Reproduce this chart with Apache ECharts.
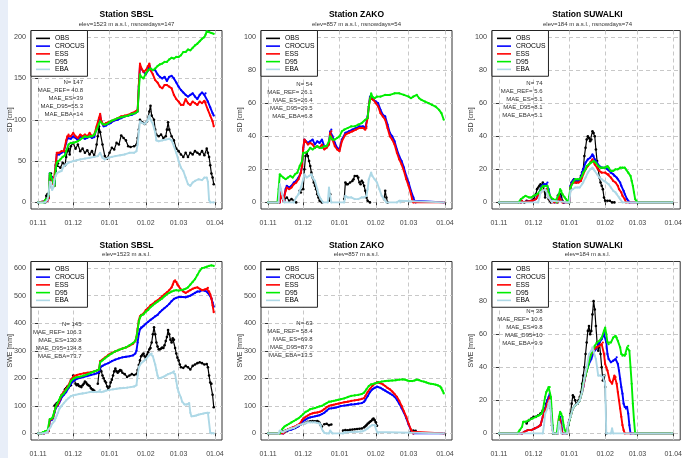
<!DOCTYPE html>
<html><head><meta charset="utf-8">
<script src="https://cdn.jsdelivr.net/npm/echarts@6.0.0/dist/echarts.min.js"></script>
<style>html,body{margin:0;padding:0;background:#fff}#c{width:685px;height:458px}</style>
</head><body><div id="c"></div>
<script>
// ---- axis ticks ----
const dayTicks = [0, 30, 61, 92, 120, 151];
const dayLabels = ['01.11', '01.12', '01.01', '01.02', '01.03', '01.04'];
const seriesNames = ['OBS', 'CROCUS', 'ESS', 'D95', 'EBA'];
const seriesColors = ['#000000', '#0000ff', '#ff0000', '#00ee00', '#add8e6'];
const ticksSD_SBSL = [0, 50, 100, 150, 200];
const ticks0_100 = [0, 20, 40, 60, 80, 100];
const ticksSWE_600 = [0, 100, 200, 300, 400, 500, 600];

// ---- titles / stats ----
const stations = ['SBSL', 'ZAKO', 'SUWALKI'];
const subSD = ['elev=1523 m a.s.l., nsnowdays=147', 'elev=857 m a.s.l., nsnowdays=54', 'elev=184 m a.s.l., nsnowdays=74'];
const subSWE = ['elev=1523 m a.s.l.', 'elev=857 m a.s.l.', 'elev=184 m a.s.l.'];
const statsSD_SBSL = ['N= 147', 'MAE_REF= 40.8', 'MAE_ES=39', 'MAE_D95=55.3', 'MAE_EBA=14'];
const statsSD_ZAKO = ['N= 54', 'MAE_REF= 26.1', 'MAE_ES=26.4', 'MAE_D95=29.5', 'MAE_EBA=6.8'];
const statsSD_SUW = ['N= 74', 'MAE_REF= 5.6', 'MAE_ES=5.1', 'MAE_D95=8.1', 'MAE_EBA=5.1'];
const statsSWE_SBSL = ['N= 145', 'MAE_REF= 106.3', 'MAE_ES=130.8', 'MAE_D95=134.8', 'MAE_EBA=73.7'];
const statsSWE_ZAKO = ['N= 63', 'MAE_REF= 58.4', 'MAE_ES=69.8', 'MAE_D95=87.9', 'MAE_EBA=13.5'];
const statsSWE_SUW = ['N= 38', 'MAE_REF= 10.6', 'MAE_ES=9.8', 'MAE_D95=10', 'MAE_EBA=9.9'];

// ---- data: [day since 01.11, value] ----
const sdSbslObs = [[6,0],[7,8],[8,10],[9,6],[10,20],[11,35],[12,30],[13,25],[14,20],[15,38],[16,45],[17,47],[19,42],[21,48],[23,45],[24,55],[25,62],[26,65],[27,58],[28,68],[30,72],[32,65],[34,70],[36,62],[38,65],[40,60],[42,63],[44,58],[46,62],[48,56],[50,70],[51,80],[52,92],[53,85],[55,70],[57,56],[59,53],[61,60],[63,66],[65,64],[67,72],[69,70],[71,81],[73,78],[75,75],[77,68],[79,67],[82,68],[84,70],[85,78],[86,88],[87,100],[89,97],[91,95],[93,98],[95,110],[96,117],[97,105],[99,100],[100,88],[101,82],[103,80],[105,82],[107,78],[109,80],[110,88],[111,97],[112,88],[114,80],[116,75],[118,65],[120,62],[122,58],[124,55],[126,60],[128,55],[130,60],[132,58],[134,62],[136,60],[138,58],[140,62],[142,57],[144,65],[145,60],[146,55],[147,45],[148,35],[149,30],[150,22]];
const sdSbslCro = [[0,0],[8,2],[9,5],[10,35],[11,32],[12,30],[13,25],[14,22],[15,45],[16,58],[18,58],[20,60],[22,62],[23,60],[24,72],[25,78],[26,80],[28,77],[30,80],[32,78],[34,75],[36,80],[38,78],[40,77],[42,78],[44,80],[46,78],[48,79],[50,90],[52,100],[53,105],[54,98],[56,92],[58,93],[60,95],[62,96],[65,99],[68,100],[71,102],[74,104],[77,105],[80,106],[83,108],[85,110],[86,140],[87,165],[88,162],[90,158],[92,155],[94,160],[95,166],[96,162],[98,160],[100,160],[102,155],[104,152],[106,150],[108,152],[110,147],[112,152],[114,153],[116,150],[118,145],[120,140],[122,136],[124,133],[126,130],[128,128],[130,130],[132,132],[134,128],[136,125],[138,130],[140,133],[142,130],[143,132],[145,122],[147,115],[149,108],[150,105]];
const sdSbslEss = [[0,0],[8,2],[9,5],[10,33],[11,30],[12,27],[13,22],[14,20],[15,45],[16,60],[18,60],[20,62],[22,62],[23,62],[24,75],[25,80],[26,82],[28,80],[30,84],[32,80],[34,78],[36,82],[38,80],[40,82],[42,80],[44,84],[46,80],[48,82],[50,92],[52,102],[53,107],[54,98],[56,94],[58,96],[60,97],[62,98],[65,100],[68,102],[71,104],[74,105],[77,106],[80,108],[83,110],[85,112],[86,142],[87,168],[88,163],[90,158],[92,160],[94,165],[95,168],[96,160],[98,155],[100,148],[102,145],[104,140],[106,138],[108,142],[110,142],[112,140],[114,138],[116,130],[118,125],[120,122],[122,118],[124,118],[126,125],[128,120],[130,118],[132,122],[134,120],[136,118],[138,122],[140,120],[142,123],[143,121],[145,112],[147,105],[149,98],[150,92]];
const sdSbslD95 = [[0,0],[5,0],[6,3],[8,5],[9,8],[10,35],[11,33],[12,28],[13,24],[14,20],[15,40],[16,48],[17,50],[19,52],[21,55],[23,57],[24,62],[26,70],[28,72],[30,72],[32,73],[34,74],[36,76],[38,78],[40,80],[42,79],[44,80],[46,80],[48,82],[50,88],[52,95],[53,98],[55,95],[57,94],[59,95],[61,97],[63,99],[65,100],[68,102],[71,103],[74,104],[77,105],[80,107],[83,108],[85,110],[86,135],[87,155],[88,152],[90,150],[92,156],[94,160],[96,162],[98,160],[100,162],[102,165],[104,167],[106,168],[108,170],[110,170],[112,173],[114,175],[116,174],[118,176],[120,176],[122,178],[124,182],[126,182],[128,185],[130,184],[132,187],[134,190],[136,192],[138,195],[140,198],[142,200],[143,203],[144,207],[146,206],[148,205],[150,204]];
const sdSbslEba = [[0,0],[6,0],[8,3],[9,10],[10,25],[11,22],[12,15],[13,18],[14,28],[15,32],[16,35],[18,37],[20,38],[22,44],[24,46],[26,48],[28,49],[30,50],[33,51],[36,52],[40,53],[44,54],[48,55],[51,56],[53,60],[55,54],[57,52],[60,54],[63,55],[66,56],[70,57],[74,58],[78,60],[82,60],[84,62],[85,70],[86,85],[87,98],[89,96],[91,95],[93,98],[95,105],[96,100],[98,95],[100,85],[101,75],[103,74],[106,75],[109,76],[112,77],[114,75],[116,68],[118,60],[120,50],[122,42],[124,38],[126,30],[128,22],[130,20],[132,24],[134,26],[137,28],[140,27],[142,30],[144,30],[145,25],[146,3],[147,0],[150,0]];

const sdZakoObs = [[10,3],[11,5],[12,4],[14,2],[16,3],[18,1],[20,2],[22,1],[24,0],[25,'-'],[27,7],[28,6],[30,8],[31,20],[32,28],[33,30],[34,28],[35,25],[36,22],[37,18],[38,15],[39,12],[40,10],[41,8],[42,5],[43,3],[44,1],[46,0],[47,'-'],[52,1],[53,5],[54,'-'],[65,2],[66,12],[67,11],[68,11],[70,12],[72,13],[73,14],[74,16],[76,16],[77,15],[78,12],[79,11],[80,13],[81,12],[82,10],[83,7],[84,3],[85,1],[87,0],[88,'-'],[99,2],[100,7],[101,3],[102,0]];
const sdZakoCro = [[0,0],[10,0],[11,6],[12,3],[13,1],[14,1],[15,8],[16,10],[18,9],[20,10],[22,12],[24,13],[26,15],[28,18],[29,22],[30,32],[31,38],[32,37],[34,36],[36,37],[38,38],[40,35],[42,37],[44,36],[46,38],[48,34],[50,34],[52,36],[53,43],[54,44],[55,40],[57,36],[59,33],[61,32],[63,38],[66,42],[69,43],[72,44],[75,45],[78,46],[81,46],[83,45],[84,46],[85,52],[86,58],[87,64],[88,65],[90,62],[92,61],[94,60],[96,56],[98,53],[100,52],[102,47],[104,42],[106,40],[108,37],[110,32],[112,28],[114,25],[116,21],[118,16],[120,12],[122,7],[124,3],[125,1],[126,0],[150,0]];
const sdZakoEss = [[0,0],[10,0],[11,7],[12,3],[13,1],[14,1],[15,7],[16,9],[18,8],[20,9],[22,11],[24,12],[26,14],[28,18],[29,22],[30,33],[31,38],[32,37],[34,35],[36,36],[38,35],[40,33],[42,34],[44,33],[46,35],[48,32],[50,33],[52,35],[53,42],[54,43],[55,38],[57,34],[59,32],[61,31],[63,37],[66,41],[69,42],[72,43],[75,44],[78,45],[81,45],[83,44],[84,45],[85,51],[86,58],[87,63],[88,64],[90,62],[92,60],[94,58],[96,54],[98,52],[100,50],[102,45],[104,40],[106,38],[108,35],[110,30],[112,26],[114,23],[116,19],[118,14],[120,10],[122,5],[123,2],[124,0],[150,0]];
const sdZakoD95 = [[0,0],[8,0],[9,8],[10,17],[11,16],[13,15],[15,14],[17,15],[19,16],[21,15],[23,17],[25,18],[27,22],[29,25],[30,30],[32,30],[34,31],[36,33],[38,32],[40,33],[42,34],[44,33],[46,33],[48,34],[50,34],[52,37],[53,40],[55,38],[57,38],[59,39],[61,40],[63,43],[65,44],[68,45],[71,46],[74,46],[77,47],[80,48],[83,50],[85,51],[86,58],[87,62],[88,66],[89,64],[91,63],[93,64],[96,64],[100,65],[104,65],[108,66],[112,66],[116,65],[120,64],[122,63],[124,64],[127,65],[129,63],[131,62],[134,61],[137,60],[140,59],[143,58],[146,56],[148,54],[150,50]];
const sdZakoEba = [[0,0],[9,0],[10,11],[11,8],[12,5],[13,2],[14,0],[22,0],[24,3],[26,5],[28,9],[30,14],[31,17],[33,15],[35,16],[37,17],[38,15],[40,13],[42,8],[43,5],[45,2],[47,0],[51,0],[52,9],[53,4],[54,0],[65,0],[66,4],[68,3],[71,3],[74,2],[77,2],[80,3],[82,3],[84,4],[85,8],[86,14],[88,18],[89,16],[91,14],[93,12],[95,8],[97,4],[99,2],[101,0],[110,0],[112,1],[113,0],[150,0]];

const sdSuwObs = [[0,0],[22,0],[24,1],[28,1],[30,2],[32,5],[33,8],[34,9],[35,10],[36,11],[37,10],[38,12],[39,8],[40,3],[41,6],[42,8],[43,2],[44,1],[45,0],[46,'-'],[51,4],[52,5],[53,1],[54,5],[55,1],[56,0],[57,'-'],[61,3],[62,9],[63,12],[64,13],[65,14],[66,13],[67,12],[69,13],[70,14],[71,16],[72,18],[73,20],[74,28],[75,33],[76,38],[77,40],[78,39],[79,37],[80,38],[81,43],[82,42],[83,40],[84,32],[85,25],[86,20],[87,15],[88,12],[89,10],[90,8],[91,3],[92,1],[94,1],[96,1],[98,0],[100,0]];
const sdSuwCro = [[0,0],[19,0],[20,1],[29,1],[32,2],[33,3],[35,6],[37,10],[39,11],[41,11],[42,12],[43,8],[44,4],[45,2],[46,1],[48,0],[51,0],[52,5],[53,3],[54,1],[56,0],[61,0],[62,10],[63,12],[65,14],[67,13],[69,13],[71,15],[72,18],[73,20],[75,24],[77,26],[79,27],[81,29],[82,28],[83,26],[85,24],[87,22],[89,21],[92,21],[94,20],[95,20],[97,18],[99,17],[100,16],[102,15],[103,14],[105,12],[106,10],[108,7],[109,5],[111,2],[112,1],[113,0],[150,0]];
const sdSuwEss = [[0,0],[19,0],[20,1],[29,1],[32,2],[34,4],[36,6],[38,7],[40,8],[41,8],[42,7],[43,4],[44,2],[46,0],[51,0],[52,4],[53,2],[55,0],[61,0],[62,9],[63,11],[65,12],[67,12],[69,12],[71,13],[72,15],[73,17],[75,20],[77,22],[79,24],[81,26],[82,25],[83,23],[85,21],[87,19],[89,18],[92,18],[94,17],[95,17],[97,15],[99,13],[101,12],[103,10],[104,8],[106,6],[107,4],[109,2],[110,0],[150,0]];
const sdSuwD95 = [[0,0],[17,0],[19,2],[21,3],[23,4],[26,3],[28,3],[30,4],[33,5],[35,6],[37,9],[38,10],[40,10],[42,10],[43,6],[45,3],[47,2],[49,1],[50,0],[52,5],[53,8],[54,7],[55,5],[57,3],[58,2],[60,0],[61,0],[62,9],[64,12],[66,14],[68,14],[70,14],[72,16],[73,18],[75,20],[76,22],[78,23],[79,24],[82,25],[84,24],[86,22],[88,21],[90,21],[92,21],[94,22],[95,21],[97,19],[99,19],[101,20],[103,20],[105,21],[107,21],[109,21],[110,20],[112,18],[114,16],[115,13],[116,10],[117,6],[118,2],[120,0],[150,0]];
const sdSuwEba = [[0,0],[34,0],[35,3],[36,6],[38,7],[40,8],[41,7],[42,5],[43,3],[45,1],[46,0],[61,0],[62,7],[64,8],[66,9],[68,9],[70,9],[72,11],[73,12],[75,15],[77,18],[79,20],[81,21],[82,20],[83,19],[85,17],[87,15],[89,14],[91,13],[93,12],[95,11],[97,9],[99,7],[101,6],[102,5],[104,3],[105,2],[107,0],[150,0]];

const sweSbslObs = [[14,100],[15,105],[16,110],[17,112],[18,118],[19,125],[20,135],[21,140],[22,150],[23,160],[24,165],[25,170],[26,168],[27,172],[28,175],[29,195],[30,210],[31,195],[32,180],[33,175],[34,178],[35,172],[36,170],[37,168],[38,175],[39,180],[40,188],[41,185],[42,178],[43,175],[44,172],[45,165],[46,160],[47,158],[48,155],[49,'-'],[51,180],[52,220],[53,240],[54,225],[55,210],[56,200],[57,190],[58,185],[59,170],[60,160],[61,170],[62,185],[63,195],[64,210],[65,225],[66,235],[67,225],[68,220],[69,225],[70,230],[71,228],[72,220],[74,215],[76,205],[78,210],[80,215],[82,212],[84,215],[85,230],[86,248],[87,265],[88,280],[89,285],[90,290],[91,280],[92,270],[93,285],[94,295],[95,305],[96,310],[97,330],[98,360],[99,385],[100,360],[101,330],[102,315],[103,305],[104,305],[105,308],[106,312],[107,310],[108,320],[109,335],[110,350],[111,375],[112,360],[113,340],[114,330],[115,345],[116,340],[117,310],[118,290],[119,275],[120,265],[121,250],[122,240],[124,238],[126,245],[128,240],[130,232],[132,245],[134,250],[136,255],[138,258],[140,255],[142,250],[144,252],[145,240],[146,210],[147,185],[148,180],[149,140],[150,95]];
const sweSbslCro = [[0,0],[5,0],[7,5],[9,8],[10,45],[12,50],[13,55],[14,75],[15,90],[16,98],[17,100],[18,110],[19,120],[20,130],[22,140],[24,150],[26,165],[28,180],[30,190],[31,195],[33,198],[36,202],[39,205],[42,208],[45,212],[48,215],[50,218],[52,222],[53,240],[55,245],[57,250],[60,255],[63,262],[66,268],[69,272],[72,276],[75,278],[78,280],[81,283],[83,290],[84,300],[85,330],[86,360],[87,378],[88,385],[90,390],[92,398],[94,405],[96,412],[98,418],[100,425],[102,430],[104,440],[106,448],[108,455],[110,462],[112,470],[114,480],[116,488],[118,492],[120,495],[122,495],[124,495],[126,494],[128,497],[130,500],[132,505],[134,510],[136,515],[138,515],[140,520],[142,518],[144,515],[145,510],[146,505],[147,500],[148,490],[149,475],[150,460]];
const sweSbslEss = [[0,0],[5,0],[7,5],[9,8],[10,50],[12,52],[13,60],[14,80],[15,95],[16,102],[17,105],[18,115],[19,128],[20,140],[22,150],[24,162],[26,175],[28,195],[30,205],[31,210],[33,212],[36,215],[39,218],[42,220],[45,222],[48,225],[50,228],[52,232],[53,262],[55,268],[57,275],[60,285],[63,292],[66,298],[69,303],[72,308],[75,312],[78,318],[81,325],[83,335],[84,350],[85,380],[86,410],[87,425],[88,430],[90,435],[92,448],[94,455],[96,465],[98,470],[100,478],[102,483],[104,490],[106,498],[108,505],[110,512],[112,520],[114,530],[115,540],[116,552],[117,556],[118,550],[119,540],[120,535],[122,522],[124,515],[126,510],[128,515],[130,520],[132,525],[134,528],[136,530],[138,525],[140,520],[142,522],[144,525],[145,528],[146,515],[147,505],[148,490],[149,465],[150,440]];
const sweSbslD95 = [[0,0],[3,0],[4,5],[6,8],[8,10],[9,12],[10,52],[12,55],[13,60],[14,80],[15,95],[16,105],[17,112],[18,122],[19,132],[20,138],[22,145],[24,158],[26,170],[28,190],[30,198],[31,202],[33,204],[36,206],[39,210],[42,214],[45,220],[48,225],[50,228],[52,232],[53,258],[55,265],[57,272],[60,282],[63,290],[66,298],[69,303],[72,308],[75,312],[78,320],[81,328],[83,335],[84,350],[85,375],[86,405],[87,420],[88,428],[90,432],[92,442],[94,448],[96,458],[98,465],[100,472],[102,478],[104,484],[106,490],[108,498],[110,505],[112,510],[114,515],[116,518],[118,520],[120,518],[122,520],[124,522],[126,525],[128,530],[130,540],[132,550],[134,560],[136,575],[138,590],[140,600],[142,602],[144,605],[146,608],[148,610],[150,608]];
const sweSbslEba = [[0,0],[4,0],[6,2],[8,5],[9,15],[10,20],[11,25],[12,35],[13,40],[14,45],[15,55],[16,65],[17,75],[18,88],[19,95],[20,100],[22,110],[24,120],[26,128],[28,135],[30,138],[32,140],[35,143],[38,145],[41,147],[44,150],[47,150],[50,150],[52,152],[53,158],[54,150],[56,152],[58,155],[61,158],[64,160],[67,162],[70,164],[73,165],[76,166],[79,168],[82,170],[84,175],[85,210],[86,240],[88,255],[90,262],[92,270],[94,280],[96,288],[97,290],[98,280],[99,265],[100,250],[101,230],[102,210],[103,200],[105,202],[107,205],[109,210],[111,215],[113,218],[115,222],[116,225],[117,215],[118,190],[119,165],[120,150],[122,130],[123,115],[125,105],[127,105],[129,110],[130,75],[131,62],[133,63],[135,65],[137,68],[139,70],[141,72],[143,74],[145,75],[146,75],[147,3],[148,0],[150,0]];

const sweZakoObs = [[12,5],[13,8],[14,6],[15,10],[16,8],[17,12],[19,15],[21,18],[23,20],[25,25],[26,30],[28,32],[30,35],[32,38],[34,42],[36,44],[38,45],[40,44],[42,45],[43,42],[44,38],[45,30],[46,25],[47,'-'],[48,33],[50,35],[52,30],[54,32],[55,'-'],[64,10],[66,12],[68,11],[70,13],[72,14],[74,15],[76,16],[78,17],[80,18],[82,22],[83,26],[84,30],[85,35],[86,38],[87,42],[88,45],[89,50],[90,54],[91,48],[92,40],[93,28],[94,'-'],[122,8],[124,10],[126,9]];
const sweZakoCro = [[0,0],[13,0],[14,5],[15,8],[16,10],[18,12],[20,14],[22,18],[24,22],[26,26],[28,35],[30,45],[32,50],[34,55],[36,58],[38,60],[40,62],[42,64],[44,66],[46,70],[48,75],[50,82],[52,90],[54,91],[56,92],[58,94],[60,96],[62,99],[65,101],[68,103],[71,105],[74,106],[77,108],[80,110],[82,115],[83,120],[85,135],[87,150],[89,160],[91,165],[93,170],[94,168],[96,165],[98,160],[100,155],[102,150],[104,145],[106,140],[108,133],[110,122],[112,108],[114,92],[116,75],[118,55],[120,32],[122,12],[123,5],[124,0],[150,0]];
const sweZakoEss = [[0,0],[13,0],[14,5],[15,10],[17,15],[19,18],[21,22],[23,25],[25,30],[27,35],[29,48],[30,55],[32,60],[34,65],[36,70],[38,73],[40,75],[42,76],[44,78],[46,82],[48,88],[50,95],[52,100],[54,102],[56,104],[58,106],[60,108],[62,110],[65,113],[68,115],[71,118],[74,120],[77,122],[80,125],[82,128],[83,135],[85,150],[87,162],[89,172],[91,180],[93,185],[94,186],[96,182],[98,178],[100,172],[102,165],[104,160],[106,152],[108,143],[110,133],[112,118],[114,100],[116,80],[118,60],[120,35],[122,14],[123,6],[124,0],[150,0]];
const sweZakoD95 = [[0,0],[10,0],[11,5],[12,15],[13,20],[14,25],[16,30],[18,35],[20,40],[22,45],[24,50],[26,55],[28,62],[30,70],[32,78],[34,82],[36,88],[38,90],[40,92],[42,95],[44,98],[46,100],[48,105],[50,110],[52,115],[54,116],[56,118],[58,120],[60,122],[62,124],[65,127],[68,132],[71,136],[74,138],[77,140],[80,143],[82,148],[84,160],[86,172],[88,178],[90,180],[92,183],[94,185],[97,188],[100,190],[103,191],[106,192],[109,193],[112,195],[115,196],[117,195],[119,192],[121,190],[123,190],[125,192],[127,195],[129,193],[131,190],[133,188],[135,185],[137,182],[139,180],[141,179],[143,177],[145,174],[147,170],[148,165],[149,155],[150,145]];
const sweZakoEba = [[0,0],[9,0],[10,10],[11,8],[12,5],[13,4],[14,8],[16,12],[18,15],[20,18],[22,20],[24,25],[26,30],[28,32],[30,35],[32,37],[34,40],[36,40],[38,40],[40,40],[42,38],[44,36],[45,30],[46,15],[47,8],[48,2],[50,0],[52,0],[53,10],[54,3],[55,0],[64,0],[65,5],[67,4],[70,5],[73,5],[76,6],[79,7],[81,8],[83,12],[85,18],[87,25],[89,30],[91,30],[92,28],[93,5],[94,0],[150,0]];

const sweSuwObs = [[24,6],[26,8],[28,9],[30,10],[32,10],[34,11],[36,12],[38,14],[40,15],[41,18],[42,20],[43,21],[44,22],[45,15],[46,5],[47,0],[48,'-'],[60,5],[61,8],[62,12],[63,18],[64,23],[65,22],[66,20],[67,18],[68,18],[69,20],[70,22],[71,25],[72,30],[73,35],[74,40],[75,48],[76,55],[77,62],[78,65],[79,60],[80,62],[81,72],[82,80],[83,75],[84,65],[85,55],[86,50],[87,55],[88,48],[89,40],[90,32],[91,35],[92,28],[93,0]];
const sweSuwCro = [[0,0],[20,0],[22,1],[25,2],[28,2],[31,3],[34,4],[36,5],[38,10],[40,15],[42,20],[43,22],[44,24],[45,15],[46,5],[47,0],[51,0],[52,8],[53,10],[54,6],[55,0],[59,0],[60,6],[62,10],[64,15],[66,17],[68,18],[70,20],[72,25],[73,28],[75,35],[76,38],[78,42],[80,45],[82,49],[84,51],[85,52],[87,55],[89,57],[91,60],[92,61],[93,55],[94,48],[95,45],[97,43],[99,44],[101,45],[102,46],[103,42],[104,38],[105,33],[106,28],[107,24],[108,18],[109,16],[110,15],[111,16],[112,12],[113,5],[114,0],[150,0]];
const sweSuwEss = [[0,0],[20,0],[22,1],[25,2],[28,2],[31,3],[34,4],[36,5],[38,10],[40,14],[42,18],[43,20],[44,22],[45,14],[46,4],[47,0],[51,0],[52,10],[53,8],[54,3],[55,0],[59,0],[60,6],[62,10],[64,15],[66,17],[68,18],[70,20],[72,25],[73,28],[75,35],[76,38],[78,45],[80,48],[82,50],[84,52],[85,52],[87,53],[89,54],[90,55],[91,48],[92,42],[93,40],[94,38],[96,32],[98,30],[100,35],[101,34],[102,30],[103,25],[104,20],[105,15],[106,10],[107,5],[108,2],[109,0],[150,0]];
const sweSuwD95 = [[0,0],[16,0],[18,2],[20,4],[21,7],[23,7],[26,8],[29,9],[32,10],[35,11],[37,12],[38,14],[39,18],[40,22],[41,25],[42,26],[43,28],[44,28],[45,22],[46,10],[47,0],[50,0],[51,5],[52,10],[53,13],[54,12],[55,10],[56,5],[57,2],[59,0],[60,5],[62,10],[64,15],[66,17],[68,18],[70,20],[72,25],[73,30],[75,35],[77,40],[79,46],[81,50],[83,53],[85,55],[87,56],[89,58],[91,62],[92,64],[93,60],[94,55],[95,54],[97,55],[99,58],[101,59],[102,58],[103,56],[105,52],[106,48],[107,47],[109,47],[110,48],[111,52],[112,53],[113,50],[114,40],[115,30],[116,18],[117,8],[118,0],[150,0]];
const sweSuwEba = [[0,0],[38,0],[39,5],[40,12],[42,15],[43,18],[44,20],[45,12],[46,3],[47,0],[51,0],[52,7],[53,5],[54,0],[59,0],[60,6],[62,10],[64,15],[66,17],[68,18],[70,20],[72,25],[74,33],[76,40],[78,48],[80,50],[81,52],[82,50],[83,47],[84,45],[85,40],[86,35],[88,35],[90,34],[91,35],[92,30],[93,0],[97,0],[98,3],[99,0],[150,0]];

// ---- panel layout ----
const FONT = '"Liberation Sans", Arial, sans-serif';
const colLeft = [31, 261, 492];
const rowTop = [30.5, 261.5];
const gridW = 191, gridH = 178.5;
const panels = [
  {c:0,r:0,title:'Station '+stations[0],sub:subSD[0],yname:'SD [cm]',ymin:-8,ymax:208,ticks:ticksSD_SBSL,stats:statsSD_SBSL,sx:83,sy:78,data:[sdSbslObs,sdSbslCro,sdSbslEss,sdSbslD95,sdSbslEba]},
  {c:1,r:0,title:'Station '+stations[1],sub:subSD[1],yname:'SD [cm]',ymin:-4,ymax:104,ticks:ticks0_100,stats:statsSD_ZAKO,sx:312.5,sy:80,data:[sdZakoObs,sdZakoCro,sdZakoEss,sdZakoD95,sdZakoEba]},
  {c:2,r:0,title:'Station '+stations[2],sub:subSD[2],yname:'SD [cm]',ymin:-4,ymax:104,ticks:ticks0_100,stats:statsSD_SUW,sx:542.5,sy:79.5,data:[sdSuwObs,sdSuwCro,sdSuwEss,sdSuwD95,sdSuwEba]},
  {c:0,r:1,title:'Station '+stations[0],sub:subSWE[0],yname:'SWE [mm]',ymin:-24,ymax:624,ticks:ticksSWE_600,stats:statsSWE_SBSL,sx:81.5,sy:320.5,data:[sweSbslObs,sweSbslCro,sweSbslEss,sweSbslD95,sweSbslEba]},
  {c:1,r:1,title:'Station '+stations[1],sub:subSWE[1],yname:'SWE [mm]',ymin:-24,ymax:624,ticks:ticksSWE_600,stats:statsSWE_ZAKO,sx:312.5,sy:319.5,data:[sweZakoObs,sweZakoCro,sweZakoEss,sweZakoD95,sweZakoEba]},
  {c:2,r:1,title:'Station '+stations[2],sub:subSWE[2],yname:'SWE [mm]',ymin:-4,ymax:104,ticks:ticks0_100,stats:statsSWE_SUW,sx:542.5,sy:307,data:[sweSuwObs,sweSuwCro,sweSuwEss,sweSuwD95,sweSuwEba]}
];

const grid = [], xAxis = [], yAxis = [], series = [], legend = [], title = [], graphic = [];
graphic.push({type:'rect', left:0, top:0, z:-10, shape:{width:8, height:458}, style:{fill:'#e8eef8'}});
const splitStyle = {color:'#c8c8c8', width:1, type:[4,3]};
panels.forEach((p, i) => {
  const L = colLeft[p.c], T = rowTop[p.r];
  grid.push({left:L, top:T, width:gridW, height:gridH, show:true, borderColor:'#333', borderWidth:1, backgroundColor:'transparent'});
  xAxis.push({type:'value', gridIndex:i, min:-6.04, max:157.04,
    axisLine:{show:false},
    axisTick:{show:true, length:3, lineStyle:{color:'#333'}, customValues:dayTicks},
    axisLabel:{customValues:dayTicks, margin:10.5, fontSize:7, color:'#444', fontFamily:FONT,
      formatter:(v)=>{const k=dayTicks.indexOf(Math.round(v)); return k>=0?dayLabels[k]:'';}},
    splitLine:{show:true, lineStyle:splitStyle}});
  yAxis.push({type:'value', gridIndex:i, min:p.ymin, max:p.ymax,
    name:p.yname, nameLocation:'middle', nameGap:17, nameRotate:90, nameMoveOverlap:false,
    nameTextStyle:{fontSize:7, color:'#333', fontFamily:FONT},
    axisLine:{show:false},
    axisTick:{show:true, length:3, lineStyle:{color:'#333'}, customValues:p.ticks},
    axisLabel:{customValues:p.ticks, margin:5, fontSize:7.2, color:'#444', fontFamily:FONT},
    splitLine:{show:true, lineStyle:splitStyle}});
  seriesNames.forEach((nm, k) => {
    const isObs = k === 0;
    series.push({type:'line', name:nm, xAxisIndex:i, yAxisIndex:i, data:p.data[k],
      symbol:'circle', symbolSize: isObs ? 2.6 : 2.2, showSymbol:true,
      itemStyle:{color:seriesColors[k]},
      lineStyle:{color:seriesColors[k], width: isObs ? 1.2 : 1.9},
      silent:true, animation:false, z: 2 + k * 0.01, clip:true});
  });
  legend.push({left:L, top:T, orient:'vertical', data:seriesNames, selectedMode:false,
    icon:'path://M0,0H14V1.6H0Z', itemWidth:14, itemHeight:7.75, itemGap:0,
    padding:[4,3,3,5], backgroundColor:'#fff', borderColor:'#222', borderWidth:1, borderRadius:0,
    textStyle:{fontSize:6.8, lineHeight:7.75, color:'#000', fontFamily:FONT}, z:10});
  const cx = L + gridW / 2;
  title.push({text:p.title, subtext:p.sub, left:cx, top: p.r === 0 ? 10 : 240.5, textAlign:'center', padding:0, itemGap:0.5,
    textStyle:{fontSize:8.5, fontWeight:'bold', color:'#000', lineHeight:10, fontFamily:FONT},
    subtextStyle:{fontSize:6, color:'#333', lineHeight:7, fontFamily:FONT}});
  graphic.push({type:'text', x:p.sx, y:p.sy, z:20,
    style:{text:p.stats.join('\n'), align:'right', verticalAlign:'top', fontSize:6, lineHeight:8, fill:'#333', fontFamily:FONT}});
});

const chart = echarts.init(document.getElementById('c'), null, {renderer:'canvas'});
chart.setOption({animation:false, backgroundColor:'#fff', grid, xAxis, yAxis, series, legend, title, graphic});
</script></body></html>
